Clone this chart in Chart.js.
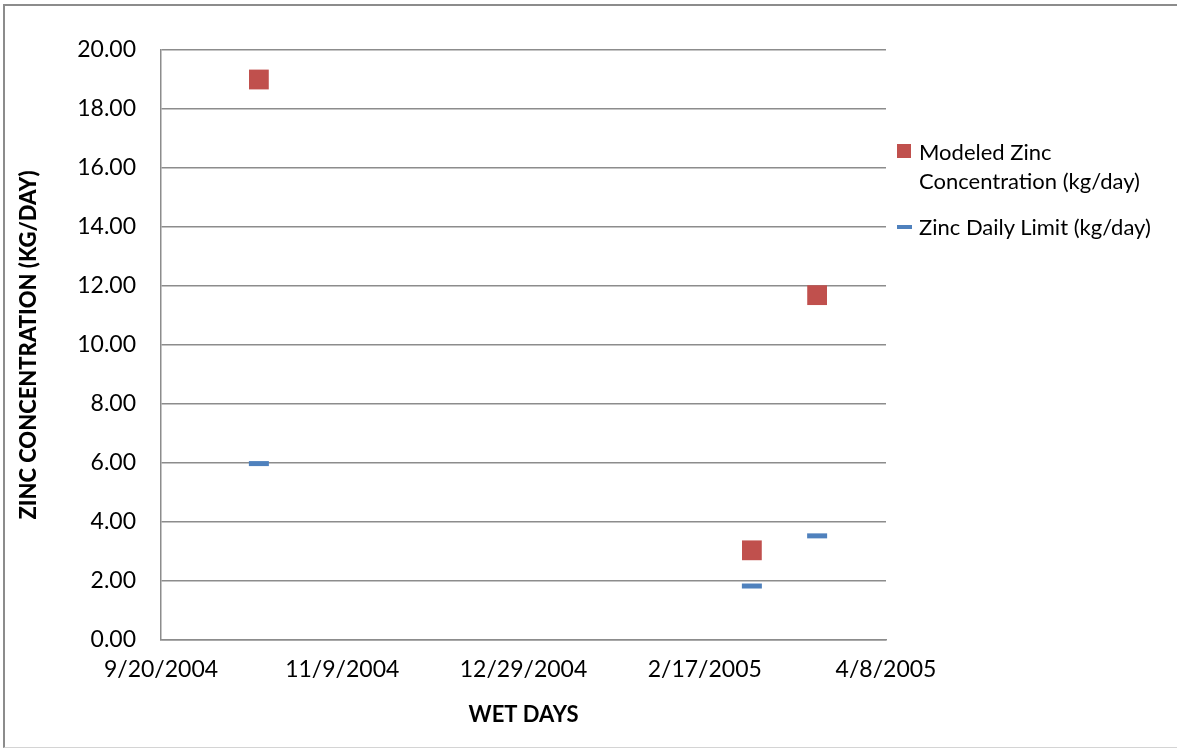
<!DOCTYPE html>
<html lang="en">
<head>
    <meta charset="UTF-8">
    <title>Zinc Concentration – Wet Days</title>
    <script src="https://cdn.jsdelivr.net/npm/chart.js"></script>
    <style>
        body{margin:0;background:#fff;overflow:hidden;font-family:Lato,"Open Sans",sans-serif}
        .frame{position:absolute;left:3px;top:4px;width:1200px;height:741px;border-left:2px solid #8c8c8c;border-top:2px solid #8c8c8c;border-bottom:1px solid #d4d4d4}
        .wrap{position:absolute;left:0;top:0;width:1177px;height:748px}
        #legend{position:absolute;left:897px;top:137px;font-size:22px;line-height:29px;color:#000}
        #legend .item{position:relative;padding-left:22px;margin-bottom:17px}
        #legend .sw{position:absolute;left:0}
    </style>
</head>
<body>
<div class="frame"></div>
<div class="wrap"><canvas id="chart"></canvas></div>
<div id="legend"></div>

<script>
// wet-day samples (m/d/yyyy) and zinc loads in kg/day
const sampleDates = ['10/17/2004', '3/2/2005', '3/20/2005'];
const modeledZinc = [19.0, 3.04, 11.69];
const dailyLimit = [5.98, 1.83, 3.53];

const seriesNames = ['Modeled Zinc Concentration (kg/day)', 'Zinc Daily Limit (kg/day)'];
const xStart = '9/20/2004';
const xTickStep = 50; // days between date ticks
const xTickCount = 4;

const DAY = 86400000;
function toUTC(s){ const [m,d,y]=s.split('/').map(Number); return Date.UTC(y,m-1,d); }
const origin = toUTC(xStart);
const dayNum = s => (toUTC(s) - origin) / DAY;
function dayLabel(n){
    const d = new Date(origin + n * DAY);
    return (d.getUTCMonth()+1) + '/' + d.getUTCDate() + '/' + d.getUTCFullYear();
}

const red = '#C0504D', blue = '#4F81BD';

const ctx = document.getElementById('chart').getContext('2d');
new Chart(ctx, {
    type: 'scatter',
    data: {
        datasets: [
            {label: seriesNames[0], data: sampleDates.map((d,i)=>({x:dayNum(d), y:modeledZinc[i]})),
             pointStyle:'rect', pointRadius:14, pointHoverRadius:14, backgroundColor:red, borderColor:red, borderWidth:0},
            {label: seriesNames[1], data: sampleDates.map((d,i)=>({x:dayNum(d), y:dailyLimit[i]})),
             pointStyle:'line', pointRadius:10, pointHoverRadius:10, borderColor:blue, backgroundColor:blue, borderWidth:5}
        ]
    },
    options: {
        responsive: true, maintainAspectRatio: false, animation: false,
        layout: {padding: {left: 12, right: 291, top: 50, bottom: 16}},
        plugins: {legend: {display: false}, tooltip: {enabled: false}},
        scales: {
            x: {
                type: 'linear', min: 0, max: xTickStep * xTickCount,
                ticks: {stepSize: xTickStep, padding: 16, color: '#000', maxRotation: 0,
                        font: {family: 'Lato', size: 23}, callback: v => dayLabel(v)},
                grid: {display: false, drawTicks: false},
                border: {display: true, color: '#8c8c8c', width: 1.5},
                title: {display: true, text: 'WET DAYS', color: '#000', font: {family: 'Lato', size: 22, weight: 'bold'}},
                afterFit: s => { s.height = 92; }
            },
            y: {
                min: 0, max: 20,
                ticks: {stepSize: 2, padding: 25, color: '#000',
                        font: {family: 'Lato', size: 23}, callback: v => v.toFixed(2)},
                grid: {color: '#8c8c8c', lineWidth: 1.5, drawTicks: false},
                border: {display: true, color: '#8c8c8c', width: 1.5},
                title: {display: true, text: 'ZINC CONCENTRATION (KG/DAY)', color: '#000', font: {family: 'Lato', size: 22, weight: '900'}},
                afterFit: s => { s.width = 149; }
            }
        }
    }
});

// legend built from the series names and colours
const legend = document.getElementById('legend');
const swatches = [
    '<span class="sw" style="top:7px;width:14px;height:14px;background:' + red + '"></span>',
    '<span class="sw" style="top:13px;width:15px;height:4px;background:' + blue + '"></span>'
];
const legendLines = [['Modeled Zinc', 'Concentration (kg/day)'], [seriesNames[1]]];
legendLines.forEach((lines, i) => {
    const item = document.createElement('div');
    item.className = 'item';
    item.innerHTML = swatches[i] + lines.join('<br>');
    legend.appendChild(item);
});
</script>
</body>
</html>
